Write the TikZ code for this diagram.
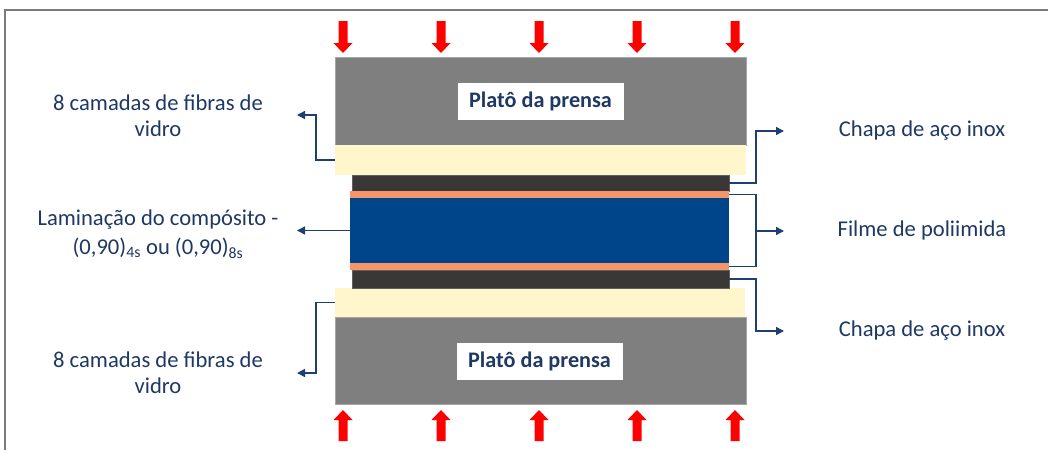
\documentclass[tikz,border=0pt]{standalone}
\usepackage{fontspec}
\setmainfont{Carlito}
\usetikzlibrary{arrows.meta}
\definecolor{platen}{HTML}{7F7F7F}
\definecolor{platenedge}{HTML}{A6A6A6}
\definecolor{cream}{HTML}{FFF6CC}
\definecolor{steel}{HTML}{3A3836}
\definecolor{kapton}{HTML}{F4956A}
\definecolor{laminate}{HTML}{00448A}
\definecolor{textblue}{HTML}{1F3864}
\definecolor{connblue}{HTML}{1F3F6E}
\definecolor{framegray}{HTML}{7A7A7A}
\tikzset{
  layer/.style={inner sep=0pt, outer sep=0pt, anchor=north west},
  platebox/.style={layer, fill=platen, draw=platenedge, line width=0.6pt},
  platelabel/.style={fill=white, inner sep=0pt, minimum width=166pt, minimum height=37pt,
    font=\fontsize{22.2}{24}\selectfont\bfseries, text=textblue},
  lbl/.style={align=center, text=textblue, font=\fontsize{22.6}{26}\selectfont},
  conn/.style={draw=connblue, line width=1.5pt},
  connarrow/.style={conn, -{Triangle[length=8pt,width=8pt]}},
  pressdown/.style={fill=red},
}
\begin{document}
\begin{tikzpicture}[x=1pt,y=-1pt]
\useasboundingbox (0,0) rectangle (1048,450);
\fill[white] (0,0) rectangle (1048,450);
% frame
\draw[framegray, line width=1.3pt] (5,450) -- (5,10) -- (1048,10);

% press platens and glass-fibre pads
\node[platebox, minimum width=411pt, minimum height=88pt] (topplaten) at (335,57) {};
\node[layer, fill=cream, minimum width=411pt, minimum height=30pt] (topcream) at (335,145) {};
\node[layer, fill=cream, minimum width=410pt, minimum height=29pt] (botcream) at (335,288) {};
\node[platebox, minimum width=411pt, minimum height=87pt] (botplaten) at (335,317) {};

% stainless sheets, polyimide films, laminate
\node[layer, fill=steel, draw=steel!80!white, line width=0.4pt, minimum width=377pt, minimum height=16pt] (steeltop) at (352,175) {};
\node[layer, fill=kapton, minimum width=379pt, minimum height=7pt] (filmtop) at (350,191) {};
\node[layer, fill=laminate, minimum width=379pt, minimum height=65pt] (core) at (350,198) {};
\node[layer, fill=kapton, minimum width=379pt, minimum height=7pt] (filmbot) at (350,263) {};
\node[layer, fill=steel, draw=steel!80!white, line width=0.4pt, minimum width=377pt, minimum height=18pt] (steelbot) at (352,270) {};

% platen labels
\node[platelabel] (ptop) at (540.5,101.5) {Platô da prensa};
\node[platelabel] (pbot) at (539.5,361) {Platô da prensa};

% pressure arrows
\foreach \x in {343,441,539,637,735}{
  \fill[pressdown] (\x-4.5,21) -- (\x+4.5,21) -- (\x+4.5,43) -- (\x+9.5,43) -- (\x,53)
    -- (\x-9.5,43) -- (\x-4.5,43) -- cycle;
  \fill[pressdown] (\x-4.5,441) -- (\x+4.5,441) -- (\x+4.5,420) -- (\x+9.5,420) -- (\x,410)
    -- (\x-9.5,420) -- (\x-4.5,420) -- cycle;
}

% left labels
\node[lbl] (lglass1) at (158,116) {8 camadas de fibras de\\vidro};
\node[lbl] (llam) at (158,234) {Laminação do compósito -\\[3pt](0,90)\textsubscript{4s} ou (0,90)\textsubscript{8s}};
\node[lbl] (lglass2) at (158,373) {8 camadas de fibras de\\vidro};

% right labels
\node[lbl] (rsteel1) at (922,131) {Chapa de aço inox};
\node[lbl] (rfilm) at (922,230) {Filme de poliimida};
\node[lbl] (rsteel2) at (922,331) {Chapa de aço inox};

% arrow ends
\coordinate (tl1) at (297,115);
\coordinate (tl2) at (297,230.5);
\coordinate (tl3) at (297,373);
\coordinate (tr1) at (784,131);
\coordinate (tr2) at (784,231);
\coordinate (tr3) at (784,331);
\coordinate (brk) at (756,231);

% leaders
\draw[connarrow] (topcream.west) -- ++(-19,0) |- (tl1);
\draw[connarrow] (core.west) -- (tl2);
\draw[connarrow] (botcream.west) -- ++(-19,0) |- (tl3);
\draw[connarrow] (steeltop.east) -- ++(27,0) |- (tr1);
\draw[conn] (filmtop.east) -| (brk) |- (filmbot.east);
\draw[connarrow] (brk) -- (tr2);
\draw[connarrow] (steelbot.east) -- ++(27,0) |- (tr3);
\end{tikzpicture}
\end{document}
